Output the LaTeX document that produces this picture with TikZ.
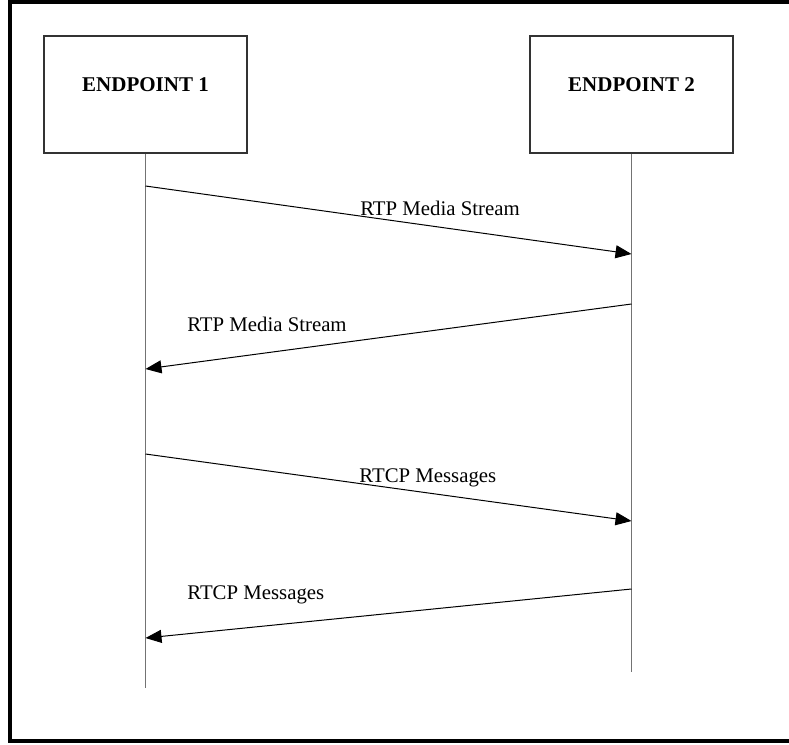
\documentclass[tikz,border=0pt]{standalone}
\usepackage{fontspec}
\setmainfont{Liberation Serif}
\usetikzlibrary{arrows.meta,positioning}
\tikzset{
	block/.style  = {draw=black!80, line width=1.2pt, rectangle, minimum width=203pt, minimum height=117pt, text height=14pt, text depth=21pt, font=\fontsize{21}{25}\selectfont\bfseries},
	msg/.style    = {anchor=base, inner sep=0pt, font=\fontsize{20.8}{25}\selectfont},
	life/.style   = {draw=black!55, line width=1.4pt},
	hidden/.style = {coordinate},
}

\begin{document}
\begin{tikzpicture}[x=1pt, y=-1pt, >={Triangle[length=16pt, width=13pt]}]
	\useasboundingbox (0,0) rectangle (789,744);
	% Frame (right side is cut off)
	\draw[line width=4pt] (789,1.5) -| (10,740.5) -- (789,740.5);
	
	% Draw the two endpoints
	\draw
	node[block] at (145.5,94.5) (ep1) {ENDPOINT 1}
	node[block, right of = ep1, node distance = 486pt] (ep2) {ENDPOINT 2};
	
	% Lifeline ends and message points
	\draw
	node[hidden] at (ep1.south |- 0,688) (end1) {}
	node[hidden] at (ep2.south |- 0,672) (end2) {}
	node[hidden] at (ep1.south |- 0,186) (out1) {}
	node[hidden] at (ep2.south |- 0,254) (in1) {}
	node[hidden] at (ep2.south |- 0,304) (out2) {}
	node[hidden] at (ep1.south |- 0,369) (in2) {}
	node[hidden] at (ep1.south |- 0,454) (out3) {}
	node[hidden] at (ep2.south |- 0,521) (in3) {}
	node[hidden] at (ep2.south |- 0,589) (out4) {}
	node[hidden] at (ep1.south |- 0,638) (in4) {};
	
	% Draw lifelines
	\draw[life] (ep1) -- (end1);
	\draw[life] (ep2) -- (end2);
	
	% Draw messages
	\draw[->, line width=1pt] (out1) -- (in1) node[msg, pos=0.606, yshift=12pt] (lbl1) {RTP Media Stream};
	\draw[->, line width=1pt] (out2) -- (in2) node[msg, pos=0.75, yshift=21pt] (lbl2) {RTP Media Stream};
	\draw[->, line width=1pt] (out3) -- (in3) node[msg, pos=0.581, yshift=10pt] (lbl3) {RTCP Messages};
	\draw[->, line width=1pt] (out4) -- (in4) node[msg, pos=0.773, yshift=27pt] (lbl4) {RTCP Messages};
	
\end{tikzpicture}
\end{document}
